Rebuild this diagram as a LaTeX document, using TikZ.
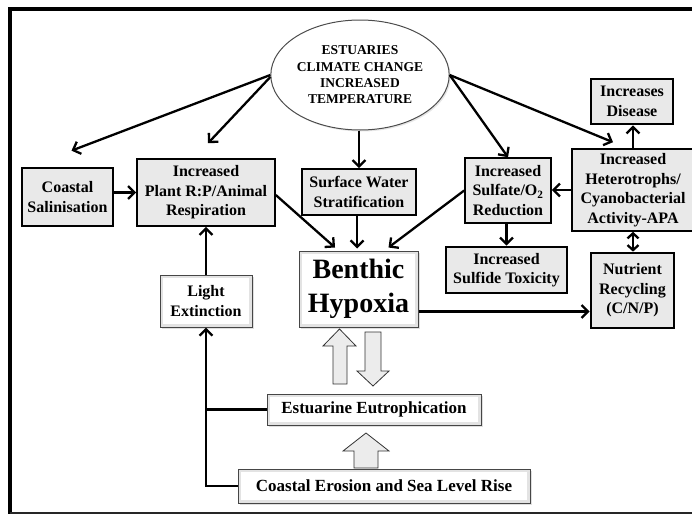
\documentclass[tikz,border=0pt]{standalone}
\usepackage{fontspec}
\setmainfont{Liberation Serif}
\usetikzlibrary{arrows.meta,calc,shadows,shapes.geometric}
\pgfdeclareradialshading{ellsh}{\pgfpoint{0bp}{0bp}}{color(0bp)=(white); color(30bp)=(white); color(40bp)=(gray!12); color(50bp)=(gray!45)}
\begin{document}
\begin{tikzpicture}[x=1pt,y=-1pt,
  txt/.style={font=\bfseries\fontsize{16}{19.5}\selectfont, align=center, inner sep=0pt},
  gbox/.style={txt, draw=black, line width=1.6pt, fill=gray!17},
  tbox/.style={gbox, line width=2.7pt},
  wbox/.style={txt, draw=gray!55!black, line width=1pt, fill=gray!22,
    drop shadow={opacity=0.25, shadow xshift=1.5pt, shadow yshift=-1.5pt},
    path picture={\fill[white] ($(path picture bounding box.south west)+(3pt,3pt)$) rectangle ($(path picture bounding box.north east)-(3pt,3pt)$);}},
  arr/.style={line width=2.3pt, -{Straight Barb[length=6.5pt,width=13pt]}},
  darr/.style={line width=2.3pt, {Straight Barb[length=5pt,width=11pt]}-{Straight Barb[length=5pt,width=11pt]}},
  ln/.style={line width=2.3pt},
  blk/.style={fill=gray!15, draw=gray!40!black, line width=0.8pt, line join=miter}]
\useasboundingbox (0,0) rectangle (692,514);
% frame
\draw[line width=4pt] (692,8.5) -- (10.3,8.5) -- (10.3,514);
\draw[gray!30!black, line width=1.2pt] (10,513) -- (692,513);
% nodes
\node[draw=gray!60!black, line width=1pt, ellipse, shading=ellsh,
  drop shadow={opacity=0.2, shadow xshift=1.5pt, shadow yshift=-1.5pt},
  minimum width=144pt, minimum height=110pt, inner sep=0pt, align=center,
  font=\bfseries\fontsize{13.5}{16.3}\selectfont] (ell) at (360,75)
  {ESTUARIES\\CLIMATE CHANGE\\INCREASED\\TEMPERATURE};
\node[tbox, minimum width=91pt, minimum height=58pt] (sal) at (67.5,197) {Coastal\\Salinisation};
\node[gbox, minimum width=138pt, minimum height=67pt] (plant) at (206,192.5) {Increased\\Plant R:P/Animal\\Respiration};
\node[gbox, minimum width=114pt, minimum height=46pt] (surf) at (359,192) {Surface Water\\Stratification};
\node[gbox, minimum width=86pt, minimum height=65pt] (sulfate) at (508,190.5) {Increased\\Sulfate/O\textsubscript{2}\\Reduction};
\node[gbox, minimum width=128pt, minimum height=82pt] (het) at (636,190) {};
\node[txt] (hettxt) at (633,190) {Increased\\Heterotrophs/\\Cyanobacterial\\Activity-APA};
\node[tbox, minimum width=82pt, minimum height=45pt] (dis) at (632,101.5) {Increases\\Disease};
\node[tbox, minimum width=121pt, minimum height=46pt] (sulfide) at (506.5,270) {Increased\\Sulfide Toxicity};
\node[tbox, minimum width=83pt, minimum height=75pt] (nut) at (632.5,290.5) {Nutrient\\Recycling\\(C/N/P)};
\node[wbox, minimum width=119pt, minimum height=76pt, font=\bfseries\fontsize{28}{34}\selectfont] (benthic) at (358.5,289) {Benthic\\Hypoxia};
\node[wbox, minimum width=92pt, minimum height=52pt] (light) at (206,301) {Light\\Extinction};
\node[wbox, minimum width=214pt, minimum height=31pt, font=\bfseries\fontsize{17}{20}\selectfont] (eutro) at (374,409.5) {Estuarine Eutrophication};
\node[wbox, minimum width=292pt, minimum height=34pt, font=\bfseries\fontsize{17}{20}\selectfont] (erosion) at (384,486) {Coastal Erosion and Sea Level Rise};
% helper coordinates
\coordinate (salend) at ($(sal.north)+(4,-16)$);
\coordinate (plantend) at ($(plant.north)+(2,-15)$);
\coordinate (hetend) at ($(het.north)+(-23,-6)$);
\coordinate (bnl) at ($(benthic.north)+(-23.5,-3)$);
\coordinate (bnm) at ($(benthic.north)+(-1.5,-2)$);
\coordinate (bnr) at ($(benthic.north)+(30,-3)$);
\coordinate (bout) at ($(benthic.south east)+(0,-16)$);
\coordinate (hetx) at (633,0);
% connectors
\draw[arr] (ell.west) -- (salend);
\draw[arr] ([yshift=-2pt]ell.west) -- (plantend);
\draw[arr] (plant.west -| sal.east) -- (plant.west);
\draw[arr] ($(plant.east)+(0,2.5)$) -- (bnl);
\draw[arr] (ell.south -| surf.north) -- (surf.north);
\draw[arr] (surf.south -| bnm) -- (bnm);
\draw[arr] (sulfate.west) -- (bnr);
\draw[arr] (ell.east) -- (sulfate.north);
\draw[arr] (ell.east) -- (hetend);
\draw[arr] (het.west) -- (het.west -| sulfate.east);
\draw[arr] (het.north -| hetx) -- (dis.south -| hetx);
\draw[darr] (het.south -| hetx) -- (nut.north -| hetx);
\draw[arr] (sulfate.south -| sulfide.north) -- (sulfide.north);
\draw[arr] (bout) -- (bout -| nut.west);
\draw[arr] (light.north) -- (plant.south);
\draw[arr] (erosion.west) -| (light.south);
\draw[ln] (eutro.west) -- (eutro.west -| light.south);
% block arrows
\draw[blk] (333,384) -- (333,346) -- (323,346) -- (339.5,329) -- (356,346) -- (347,346) -- (347,384) -- cycle;
\draw[blk] (365,332) -- (381,332) -- (381,371) -- (389,371) -- (373,386) -- (357,371) -- (365,371) -- cycle;
\draw[blk] (354,468) -- (354,451) -- (343,451) -- (366,433) -- (389,451) -- (378,451) -- (378,468) -- cycle;
\end{tikzpicture}
\end{document}
